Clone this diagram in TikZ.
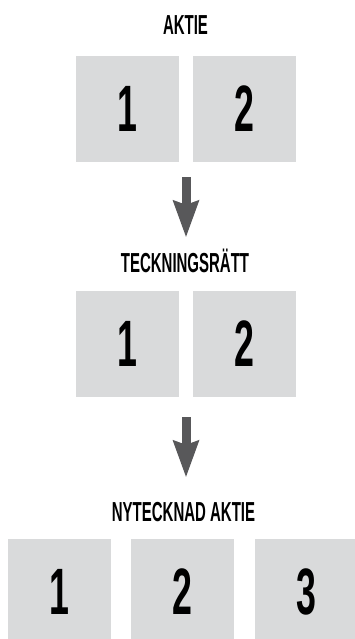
\documentclass[tikz,border=0pt]{standalone}
\usepackage{fontspec}
\newfontfamily\gothic[FakeStretch=0.545]{Liberation Sans}
\usetikzlibrary{arrows.meta}
\definecolor{rutgra}{HTML}{D9DADB}
\definecolor{pilgra}{HTML}{58585A}

\begin{document}
\begin{tikzpicture}[x=1pt,y=-1pt,
  ruta/.style={fill=rutgra,minimum width=103pt,minimum height=106pt,inner sep=0pt,
    font=\gothic\bfseries\fontsize{65.6}{70}\selectfont},
  rubrik/.style={anchor=base,inner sep=0pt,text height=20pt,text depth=0pt,
    font=\gothic\bfseries\fontsize{27.5}{30}\selectfont},
  pil/.style={line width=9pt,color=pilgra,
    -{Stealth[length=37pt,width=27pt,inset=5pt,line width=0pt]}}]
  \useasboundingbox (0,0) rectangle (355,639);
  \clip (0,0) rectangle (355,639);

  % aktie
  \node[rubrik] (akt) at (185.5,35) {AKTIE};
  \foreach \n/\x in {1/127.5, 2/244.5}
     \node[ruta] (a\n) at (\x,109) {\n};

  % teckningsratt
  \node[rubrik] (tr) at (185,272) {TECKNINGSRÄTT};
  \foreach \n/\x in {1/127.5, 2/244.5}
     \node[ruta] (b\n) at (\x,344) {\n};

  % nytecknad aktie
  \node[rubrik] (ny) at (183.5,521) {NYTECKNAD AKTIE};
  \foreach \n/\x in {1/59.5, 2/182.5, 3/306.5}
     \node[ruta] (c\n) at (\x,592) {\n};

  \path (a1.south east) -- (a2.south west) coordinate[midway] (a12);
  \path (b1.south east) -- (b2.south west) coordinate[midway] (b12);
  \draw[pil,shorten <=15pt,shorten >=15pt] (a12) -- (a12 |- tr.north);
  \draw[pil,shorten <=20pt,shorten >=24pt] (b12) -- (b12 |- ny.north);
\end{tikzpicture}
\end{document}
